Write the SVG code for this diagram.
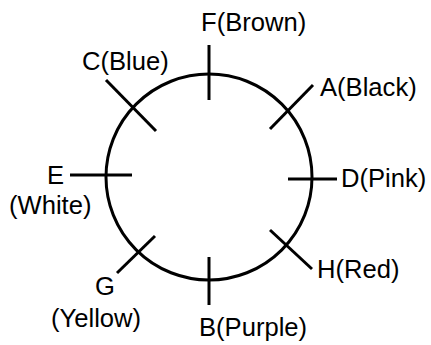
<svg xmlns="http://www.w3.org/2000/svg" width="431" height="345" viewBox="0 0 431 345">
<style>
.ring{fill:none;stroke:#000;stroke-width:3}
.tick{stroke:#000;stroke-width:3;fill:none}
.lbl{font-family:"Liberation Sans",Arial,sans-serif;font-size:25.6px;fill:#000}
</style>
<rect width="431" height="345" fill="#fff"/>
<g id="connectors">
<circle class="ring" cx="209" cy="177" r="103"/>
</g>
<g id="F"><line class="tick" x1="209" y1="45" x2="209" y2="100"/><text class="lbl" x="201" y="31">F(Brown)</text></g>
<g id="C"><line class="tick" x1="106" y1="80" x2="156" y2="131"/><text class="lbl" x="82" y="70">C(Blue)</text></g>
<g id="A"><line class="tick" x1="313" y1="85" x2="270" y2="129"/><text class="lbl" x="320" y="96">A(Black)</text></g>
<g id="E"><line class="tick" x1="70" y1="175" x2="132" y2="175"/><text class="lbl" x="47" y="184">E</text><text class="lbl" x="9" y="214">(White)</text></g>
<g id="D"><line class="tick" x1="288" y1="179" x2="337" y2="179"/><text class="lbl" x="341" y="187">D(Pink)</text></g>
<g id="G"><line class="tick" x1="117" y1="273" x2="155" y2="236"/><text class="lbl" x="95" y="295">G</text><text class="lbl" x="51" y="327">(Yellow)</text></g>
<g id="H"><line class="tick" x1="270" y1="230" x2="312" y2="269"/><text class="lbl" x="317" y="278">H(Red)</text></g>
<g id="B"><line class="tick" x1="209" y1="257" x2="209" y2="305"/><text class="lbl" x="199" y="336">B(Purple)</text></g>
</svg>
